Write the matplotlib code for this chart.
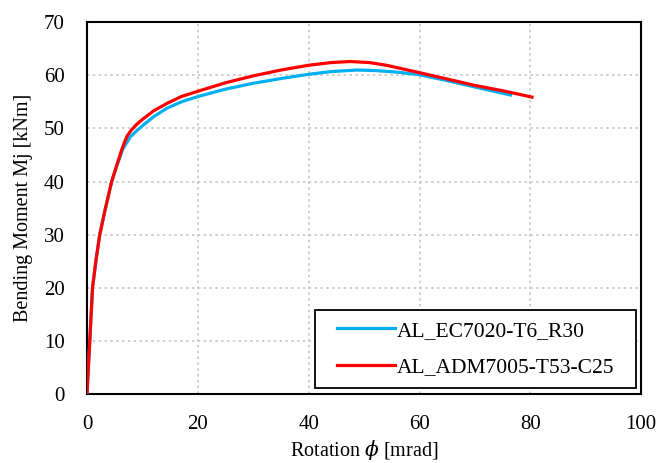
import matplotlib
matplotlib.use("Agg")
import matplotlib.pyplot as plt
from matplotlib.patches import Rectangle

plt.rcParams['font.family'] = ['Liberation Serif', 'DejaVu Serif']
plt.rcParams['mathtext.fontset'] = 'dejavuserif'

blue_label = "AL_EC7020-T6_R30"
blue_x = [0, 0.25, 0.5, 0.75, 1.0, 1.6, 2.3, 3.25, 4.45, 5.5, 6.4, 7.8, 9, 10, 12, 14.4, 17, 20, 25, 30, 35, 40, 44, 48.7, 52, 56, 60, 65, 70, 76.4]
blue_y = [0, 5, 10, 15, 20, 25, 30, 34.6, 40, 43.3, 46.0, 48.4, 49.6, 50.5, 52.2, 53.8, 55.0, 56.0, 57.4, 58.5, 59.4, 60.2, 60.7, 61.0, 60.9, 60.6, 60.1, 59.0, 57.8, 56.3]

red_label = "AL_ADM7005-T53-C25"
red_x = [0, 0.25, 0.5, 0.75, 1.0, 1.6, 2.3, 3.25, 4.45, 5.5, 6.4, 7.2, 8.0, 9.0, 10, 12, 14.4, 17, 20, 25, 30, 35, 40, 44, 47.5, 51, 54, 57, 60, 65, 70, 75, 80.3]
red_y = [0, 5, 10, 15, 20, 25, 30, 34.6, 40, 43.5, 46.4, 48.5, 49.7, 50.8, 51.7, 53.3, 54.7, 56.0, 57.0, 58.6, 59.9, 61.0, 61.9, 62.4, 62.6, 62.4, 61.9, 61.2, 60.5, 59.3, 58.1, 57.1, 55.9]

x_ticks = [0, 20, 40, 60, 80, 100]
y_ticks = [0, 10, 20, 30, 40, 50, 60, 70]

fig = plt.figure(figsize=(6.59, 4.63), dpi=100)
ax = fig.add_axes([0.132, 0.149, 0.841, 0.803])
ax.plot(blue_x, blue_y, color='#00B0F0', lw=2.3, label=blue_label, zorder=3,
        solid_joinstyle='round')
ax.plot(red_x, red_y, color='#FF0000', lw=2.3, label=red_label, zorder=4,
        solid_joinstyle='round')
ax.set_xlim(0, 100)
ax.set_ylim(0, 70)
ax.set_xticks(x_ticks)
ax.set_yticks(y_ticks)
ax.tick_params(axis='y', length=0, labelsize=15, pad=16)
ax.tick_params(axis='x', length=0, labelsize=15, pad=15)
ax.grid(True, color='#C8C8C8', linestyle=(0, (1.5, 2)), lw=1.2)
for s in ax.spines.values():
    s.set_linewidth(1.5)
    s.set_color('black')
ax.set_xlabel(r"Rotation $\phi$ [mrad]", fontsize=14.5, labelpad=3)
ax.set_ylabel("Bending Moment Mj [kNm]", fontsize=14.5, labelpad=8)

ax.add_patch(Rectangle((0.4116, 0.016), 0.579, 0.21, transform=ax.transAxes,
                       facecolor='white', edgecolor='black', lw=1.3, zorder=5))
leg = ax.legend(loc='center left', bbox_to_anchor=(0.451, 0.121),
                fontsize=15.5, frameon=False, handlelength=2.7, borderpad=0,
                borderaxespad=0, labelspacing=0.78, handletextpad=0.1)
leg.set_zorder(6)
fig.savefig("out.png", dpi=100)
